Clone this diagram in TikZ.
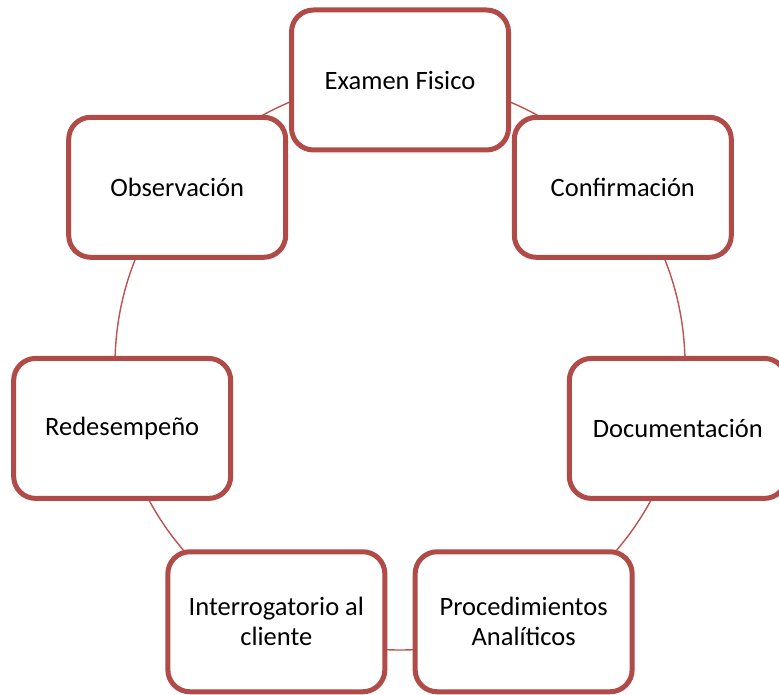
\documentclass[tikz,border=0pt]{standalone}
\usepackage{fontspec}
\setmainfont{Carlito}
\definecolor{boxred}{RGB}{177,75,72}
\definecolor{ringred}{RGB}{192,80,77}
\begin{document}
\begin{tikzpicture}[x=1pt,y=-1pt,
  stage/.style={draw=boxred, line width=5pt, fill=white, rounded corners=22pt,
    minimum width=217pt, minimum height=140pt, align=center,
    font=\fontsize{26.5}{30}\selectfont, text=black},
  ring/.style={draw=ringred, line width=1.4pt}]
\useasboundingbox (0,0) rectangle (779,695);
% circle running through all stages
\coordinate (c) at (400,365);
\draw[ring] (c) circle [radius=285pt];
% the seven stages, evenly spaced on the circle
\node[stage] (n1) at ({400+285*sin(0)},{365-285*cos(0)}) {Examen Fisico};
\node[stage] (n2) at ({400+285*sin(360/7)},{365-285*cos(360/7)}) {Confirmación};
\node[stage] (n3) at ({400+285*sin(2*360/7)},{365-285*cos(2*360/7)}) {Documentación};
\node[stage] (n4) at ({400+285*sin(3*360/7)},{365-285*cos(3*360/7)}) {Procedimientos\\Analíticos};
\node[stage] (n5) at ({400+285*sin(4*360/7)},{365-285*cos(4*360/7)}) {Interrogatorio al\\cliente};
\node[stage] (n6) at ({400+285*sin(5*360/7)},{365-285*cos(5*360/7)}) {Redesempeño};
\node[stage] (n7) at ({400+285*sin(6*360/7)},{365-285*cos(6*360/7)}) {Observación};
\end{tikzpicture}
\end{document}
